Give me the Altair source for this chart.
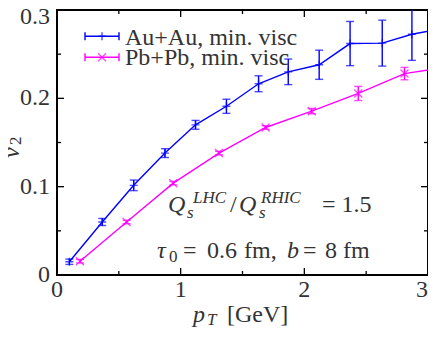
import altair as alt
import pandas as pd

# ---- data ----
au_pt = [0.10, 0.366, 0.62, 0.873, 1.12, 1.37, 1.63, 1.87, 2.12, 2.37, 2.63, 2.87, 3.12]
au_v2 = [0.0150, 0.0600, 0.1015, 0.1380, 0.1700, 0.1910, 0.2165, 0.2300, 0.2380, 0.2620, 0.2625, 0.2725, 0.2790]
au_err = [0.003, 0.004, 0.006, 0.005, 0.005, 0.008, 0.009, 0.0145, 0.0165, 0.025, 0.026, 0.0295, 0.03]

pb_pt = [0.186, 0.563, 0.94, 1.31, 1.687, 2.06, 2.436, 2.81, 3.19]
pb_v2 = [0.0156, 0.0600, 0.1040, 0.1380, 0.1670, 0.1855, 0.2055, 0.2280, 0.2360]
pb_err = [0.002, 0.002, 0.002, 0.002, 0.002, 0.003, 0.008, 0.007, 0.008]

x_major = [0, 1, 2, 3]
x_labels = ["0", "1", "2", "3"]
x_minor = [0.5, 1.5, 2.5]
y_major = [0, 0.1, 0.2, 0.3]
y_labels = ["0", "0.1", "0.2", "0.3"]
y_minor = [0.05, 0.15, 0.25]

BLUE = "#0000ff"
MAG = "#ff00ff"
TXT = "#333333"
FONT = "Times New Roman, Times, Liberation Serif, serif"
W, H = 371, 265

au = pd.DataFrame({"pt": au_pt, "v2": au_v2, "err": au_err})
au["lo"] = au["v2"] - au["err"]
au["hi"] = au["v2"] + au["err"]
pb = pd.DataFrame({"pt": pb_pt, "v2": pb_v2, "err": pb_err})
pb["lo"] = pb["v2"] - pb["err"]
pb["hi"] = pb["v2"] + pb["err"]

xs = alt.Scale(domain=[0, 3], nice=False, zero=False)
ys = alt.Scale(domain=[0, 0.3], nice=False, zero=False)

PLUS = "M-1,0L1,0M0,-1L0,1"
CROSS = "M-1,-1L1,1M-1,1L1,-1"
HBAR = "M-1,0L1,0"


def X(f):
    return alt.X(f, scale=xs, axis=None)


def Y(f):
    return alt.Y(f, scale=ys, axis=None)


def series(df, color, shape):
    base = alt.Chart(df)
    line = base.mark_line(color=color, strokeWidth=1.4, clip=True).encode(x=X("pt:Q"), y=Y("v2:Q"))
    bars = base.mark_rule(color=color, strokeWidth=1.4, clip=True).encode(
        x=X("pt:Q"), y=Y("lo:Q"), y2="hi:Q")
    cap_lo = base.mark_point(shape=HBAR, size=64, color=color, strokeWidth=1.4, clip=True).encode(
        x=X("pt:Q"), y=Y("lo:Q"))
    cap_hi = base.mark_point(shape=HBAR, size=64, color=color, strokeWidth=1.4, clip=True).encode(
        x=X("pt:Q"), y=Y("hi:Q"))
    marker = base.mark_point(shape=shape, size=64, color=color, strokeWidth=1.4, clip=True).encode(
        x=X("pt:Q"), y=Y("v2:Q"))
    return [line, bars, cap_lo, cap_hi, marker]


def xticks(vals, length):
    d = alt.Chart(pd.DataFrame({"t": vals}))
    bot = d.mark_rule(color="black", strokeWidth=1.3).encode(
        x=X("t:Q"), y=alt.value(H), y2=alt.value(H - length))
    top = d.mark_rule(color="black", strokeWidth=1.3).encode(
        x=X("t:Q"), y=alt.value(0), y2=alt.value(length))
    return [bot, top]


def yticks(vals, length):
    d = alt.Chart(pd.DataFrame({"t": vals}))
    left = d.mark_rule(color="black", strokeWidth=1.3).encode(
        y=Y("t:Q"), x=alt.value(0), x2=alt.value(length))
    right = d.mark_rule(color="black", strokeWidth=1.3).encode(
        y=Y("t:Q"), x=alt.value(W - length), x2=alt.value(W))
    return [left, right]


def txt(s, x, y, size=24, italic=False, angle=0):
    kw = dict(text=s, font=FONT, fontSize=size, color=TXT, align="left",
              baseline="alphabetic", angle=angle)
    if italic:
        kw["fontStyle"] = "italic"
    return alt.Chart(pd.DataFrame({"a": [0]})).mark_text(**kw).encode(
        x=alt.value(x), y=alt.value(y))


def hseg(x1, x2, y, color):
    return alt.Chart(pd.DataFrame({"a": [0]})).mark_rule(color=color, strokeWidth=1.4).encode(
        x=alt.value(x1), x2=alt.value(x2), y=alt.value(y))


def vseg(x, y1, y2, color):
    return alt.Chart(pd.DataFrame({"a": [0]})).mark_rule(color=color, strokeWidth=1.4).encode(
        x=alt.value(x), y=alt.value(y1), y2=alt.value(y2))


def sym(x, y, shape, color):
    return alt.Chart(pd.DataFrame({"a": [0]})).mark_point(
        shape=shape, size=64, color=color, strokeWidth=1.4).encode(x=alt.value(x), y=alt.value(y))


layers = []
layers += series(au, BLUE, PLUS)
layers += series(pb, MAG, CROSS)
layers += xticks(x_major, 7) + xticks(x_minor, 4)
layers += yticks(y_major, 7) + yticks(y_minor, 4)

# tick labels (last x label and top y label kept inside the drawing area)
xl = pd.DataFrame({"t": x_major, "lab": x_labels})
layers.append(alt.Chart(xl.iloc[:-1]).mark_text(
    font=FONT, fontSize=24, color=TXT, align="center", baseline="alphabetic").encode(
    x=X("t:Q"), y=alt.value(H + 22), text="lab:N"))
layers.append(alt.Chart(xl.iloc[-1:]).mark_text(
    font=FONT, fontSize=24, color=TXT, align="right", baseline="alphabetic").encode(
    x=X("t:Q"), y=alt.value(H + 22), text="lab:N"))
yl = pd.DataFrame({"t": y_major, "lab": y_labels})
layers.append(alt.Chart(yl.iloc[:-1]).mark_text(
    font=FONT, fontSize=24, color=TXT, align="right", baseline="middle").encode(
    y=Y("t:Q"), x=alt.value(-7), text="lab:N"))
layers.append(alt.Chart(yl.iloc[-1:]).mark_text(
    font=FONT, fontSize=24, color=TXT, align="right", baseline="alphabetic", dy=14).encode(
    y=Y("t:Q"), x=alt.value(-7), text="lab:N"))

# legend
for yy, col, shp in [(26.3, BLUE, PLUS), (47.3, MAG, CROSS)]:
    layers += [hseg(28, 62, yy, col), vseg(28, yy - 4, yy + 4, col), vseg(62, yy - 4, yy + 4, col),
               sym(45, yy, shp, col)]
layers += [txt("Au+Au, min. visc", 68, 34.7), txt("Pb+Pb, min. visc", 68, 55.3)]

# annotation line 1: Q_s^LHC / Q_s^RHIC = 1.5
layers += [
    txt("Q", 111, 202, italic=True), txt("s", 130, 208, size=17, italic=True),
    txt("LHC", 136, 193, size=17, italic=True), txt("/", 173, 202),
    txt("Q", 182, 202, italic=True), txt("s", 202, 208, size=17, italic=True),
    txt("RHIC", 204, 193, size=17, italic=True), txt("= 1.5", 265, 202),
]
# annotation line 2: tau_0 = 0.6 fm, b = 8 fm
layers += [
    txt("τ", 100, 248, italic=True), txt("0", 112, 252, size=17),
    txt("=", 126, 248), txt("0.6", 150, 248), txt("fm,", 187, 248),
    txt("b", 230, 248, italic=True), txt("=", 246, 248), txt("8", 268, 248), txt("fm", 286, 248),
]
# axis titles
layers += [txt("p", 136, 311.7, italic=True), txt("T", 150, 315, size=17, italic=True),
           txt("[GeV]", 170, 311.7)]
layers += [txt("v", -38, 148, italic=True, angle=270), txt("2", -36, 135, size=17, angle=270)]

chart = alt.layer(*layers).properties(
    width=W, height=H,
    padding={"left": 49, "top": 2, "right": 0, "bottom": 56},
    autosize=alt.AutoSizeParams(type="none"),
).configure_view(stroke="black", strokeWidth=2)

chart.save("out.html", embed_options={"renderer": "svg", "actions": False})
